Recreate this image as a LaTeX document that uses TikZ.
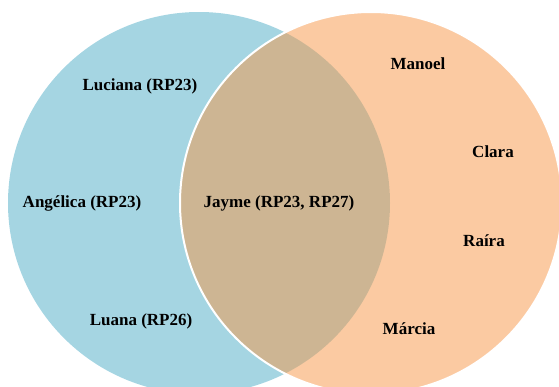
\documentclass[tikz,border=0pt]{standalone}
\usepackage{fontspec}
\setmainfont{Liberation Serif}
\definecolor{vblue}{RGB}{75,172,198}
\definecolor{vorange}{RGB}{247,150,70}
\begin{document}
\begin{tikzpicture}[x=1pt,y=-1pt,
  setA/.style={fill=vblue,fill opacity=0.5},
  setB/.style={fill=vorange,fill opacity=0.5,draw=white,draw opacity=1,line width=2pt},
  lbl/.style={font=\fontsize{17}{20}\selectfont\bfseries,inner sep=0pt,text=black}]
\useasboundingbox (0,0) rectangle (559,386);
\path[setA] (199,203) circle[radius=191];
\path[setB] (371,203) circle[radius=191];
\node[lbl] (luciana) at (140,86) {Luciana (RP23)};
\node[lbl] (angelica) at (82,203) {Angélica (RP23)};
\node[lbl] (luana) at (141,321) {Luana (RP26)};
\node[lbl] (jayme) at (279,203) {Jayme (RP23, RP27)};
\node[lbl] (manoel) at (418,64) {Manoel};
\node[lbl] (clara) at (493,152) {Clara};
\node[lbl] (raira) at (484,241) {Raíra};
\node[lbl] (marcia) at (409,329) {Márcia};
\end{tikzpicture}
\end{document}
